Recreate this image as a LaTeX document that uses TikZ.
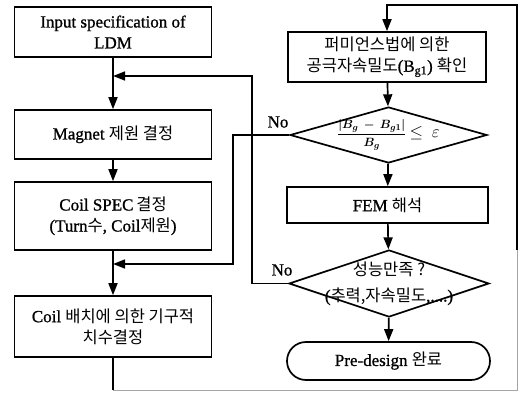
\documentclass[tikz,border=0pt]{standalone}
\usepackage{fontspec}
\setmainfont{Liberation Serif}[FakeBold=1]
\newfontfamily\krfont{Noto Sans CJK KR}[Scale=0.97]
\newcommand{\K}[1]{{\krfont #1}}
\usetikzlibrary{shapes.geometric,shapes.misc,arrows.meta}
\begin{document}
\begin{tikzpicture}[x=1pt,y=-1pt,
  box/.style={draw,line width=1.7pt,minimum width=197pt,inner sep=0pt,align=center,font=\fontsize{17}{21}\selectfont},
  dia/.style={draw,shape=diamond,line width=1.7pt,inner sep=0pt},
  ln/.style={line width=1.7pt},
  faint/.style={line width=0.8pt,black!35},
  arr/.style={line width=1.7pt,-{Triangle[length=12pt,width=9pt]}},
  lbl/.style={font=\fontsize{17}{20}\selectfont,inner sep=0pt}]
\useasboundingbox (0,0) rectangle (520,396);
% left column
\node[box,minimum height=50pt] (in) at (113,32) {Input specification of\\LDM};
\node[box,minimum height=49pt] (mag) at (113,134.5) {Magnet \K{제원 결정}};
\node[box,minimum height=68pt] (spec) at (113,216) {Coil SPEC\,\K{결정}\\(Turn\K{수}, Coil\K{제원})};
\node[box,minimum height=61pt] (coil) at (113,326.5) {Coil \K{배치에 의한 기구적}\\\K{치수결정}};
% right column
\node[box,minimum width=198pt,minimum height=50pt] (perm) at (387,57) {\K{퍼미언스법에 의한}\\\K{공극자속밀도}(B\textsubscript{g1}) \K{확인}};
\node[dia,minimum width=197pt,minimum height=56pt,
  label={[font=\fontsize{13}{16}\selectfont,inner sep=0pt]center:{{\boldmath$\displaystyle\frac{|B_g\,-\,B_{g1}|}{B_g}$}\ {\fontsize{16}{16}\selectfont$\le\ \varepsilon$}}}] (d1) at (388.5,135) {};
\node[box,minimum width=201pt,minimum height=36pt] (fem) at (387.5,205) {FEM \K{해석}};
\node[dia,minimum width=200pt,minimum height=67pt,
  label={[align=center,font=\fontsize{17}{26}\selectfont,inner sep=0pt]center:{\K{성능만족 ?}\\(\K{추력,자속밀도},....)}}] (d2) at (389,283.5) {};
\node[draw,rounded rectangle,line width=1.7pt,minimum width=203pt,minimum height=38pt,inner sep=0pt,font=\fontsize{17}{20}\selectfont] (end) at (388.5,361) {Pre-design \K{완료}};
% coordinates
\coordinate (j1) at (113,76);
\coordinate (j2) at (113,264);
\coordinate (c1) at (233,264);
\coordinate (c2) at (252,76);
\coordinate (b1) at (113,390);
\coordinate (b2) at (517,390);
\coordinate (b3) at (517,250);
\coordinate (t1) at (517,5);
% main arrows
\draw[arr] (in) -- (mag);
\draw[arr] (mag) -- (spec);
\draw[arr] (spec) -- (coil);
\draw[arr] (perm) -- (d1);
\draw[arr] (d1) -- (fem);
\draw[arr] (fem) -- (d2);
\draw[arr] (d2) -- (end);
% feedback loops
\draw[arr] (d1.west) -| (c1) -- (j2);
\draw[arr] (d2.west) -| (c2) -- (j1);
\node[lbl] (no1) at (278,122) {No};
\node[lbl] (no2) at (282,270) {No};
% long loop
\draw[ln] (coil.south) -- (b1);
\draw[faint] (b1) -- (b2) -- (b3);
\draw[arr] (b3) -- (t1) -| (perm.north);
\end{tikzpicture}
\end{document}
